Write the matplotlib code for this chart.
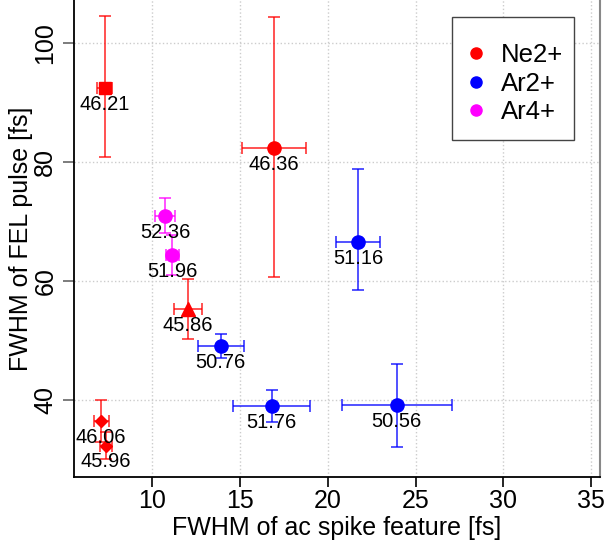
import matplotlib
matplotlib.use("Agg")
import matplotlib.pyplot as plt
from matplotlib.patches import Rectangle

plt.rcParams['font.family'] = ['Liberation Sans', 'DejaVu Sans']

# Ne2+ points
ne_x = [7.32, 16.95, 12.05, 7.10, 7.38]
ne_y = [92.5, 82.4, 55.3, 36.4, 32.3]
ne_xerr = [0.43, 1.82, 0.80, 0.43, 0.35]
ne_ylo = [11.6, 21.7, 5.0, 3.5, 2.3]
ne_yhi = [12.1, 22.1, 5.1, 3.5, 2.2]
ne_mk = ['s', 'o', '^', 'D', 'D']
ne_lab = ['46.21', '46.36', '45.86', '46.06', '45.96']

# Ar2+ points
ar2_x = [21.73, 13.91, 16.82, 23.93]
ar2_y = [66.5, 49.1, 39.0, 39.1]
ar2_xerr = [1.25, 1.30, 2.20, 3.13]
ar2_ylo = [8.0, 2.0, 2.8, 7.0]
ar2_yhi = [12.3, 2.0, 2.7, 6.9]
ar2_lab = ['51.16', '50.76', '51.76', '50.56']

# Ar4+ points
ar4_x = [10.74, 11.16]
ar4_y = [71.0, 64.3]
ar4_xerr = [0.57, 0.38]
ar4_ylo = [3.0, 3.3]
ar4_yhi = [2.9, 3.5]
ar4_lab = ['52.36', '51.96']

fig = plt.figure(figsize=(6.06, 5.47), dpi=100)
ax = fig.add_axes([74 / 606, 70 / 547, 526 / 606, 477 / 547])

groups = [
    (ne_x, ne_y, ne_xerr, ne_ylo, ne_yhi, ne_mk, ne_lab, 'red', 'Ne2+'),
    (ar2_x, ar2_y, ar2_xerr, ar2_ylo, ar2_yhi, ['o'] * 4, ar2_lab, 'blue', 'Ar2+'),
    (ar4_x, ar4_y, ar4_xerr, ar4_ylo, ar4_yhi, ['o'] * 2, ar4_lab, 'magenta', 'Ar4+'),
]

sizes = {'o': 9.5, 's': 9, '^': 9.5, 'D': 6.5}

for xs, ys, xe, ylo, yhi, mks, labs, col, name in groups:
    for i in range(len(xs)):
        ax.errorbar(xs[i], ys[i], xerr=xe[i], yerr=[[ylo[i]], [yhi[i]]],
                    fmt='none', ecolor=col, elinewidth=1.2, capsize=4,
                    capthick=1.2, alpha=0.8, zorder=2)
        ax.plot(xs[i], ys[i], marker=mks[i], color=col, ms=sizes[mks[i]],
                ls='none', zorder=3)
        ax.annotate(labs[i], (xs[i], ys[i]), xytext=(0, -5),
                    textcoords='offset points', ha='center', va='top',
                    fontsize=14.5, zorder=4)
    ax.plot([], [], 'o', color=col, ms=8, label=name)

ax.set_xlim(5.56, 35.5)
ax.set_ylim(27.0, 107.3)
ax.set_xticks([10, 15, 20, 25, 30, 35])
ax.set_yticks([40, 60, 80, 100])
ax.grid(True, ls=':', color='#cccccc', lw=1)
ax.set_axisbelow(True)

ax.spines['top'].set_visible(False)
ax.spines['right'].set_color('#888888')
ax.spines['right'].set_linewidth(1.5)
ax.spines['left'].set_linewidth(1.3)
ax.spines['bottom'].set_linewidth(1.3)

ax.tick_params(axis='x', labelsize=18, length=7, width=1.2, pad=2)
ax.tick_params(axis='y', labelsize=18, length=8, width=1.2, color='#666666',
               pad=4)
for lbl in ax.get_yticklabels():
    lbl.set_rotation(90)
    lbl.set_va('center')

ax.set_xlabel('FWHM of ac spike feature [fs]', fontsize=18, labelpad=2)
ax.set_ylabel('FWHM of FEL pulse [fs]', fontsize=18, labelpad=0)

# legend box drawn separately so the padding matches
ax.add_patch(Rectangle((0.7186, 0.7065), 0.232, 0.2579, transform=ax.transAxes,
                       fill=True, facecolor='white', edgecolor='#444444',
                       lw=1.0, zorder=5))
leg = ax.legend(loc='upper left', bbox_to_anchor=(0.7405, 0.909), fontsize=18.5,
                frameon=False, handletextpad=0.45, borderpad=0,
                labelspacing=0.17, handlelength=1.0, borderaxespad=0)
leg.set_zorder(6)

fig.savefig('out.png', dpi=100)
